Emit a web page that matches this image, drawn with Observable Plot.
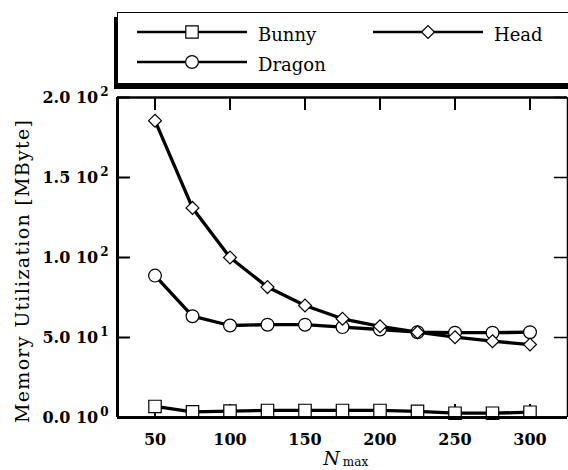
<!DOCTYPE html>
<html><head><meta charset="utf-8">
<script src="https://cdn.jsdelivr.net/npm/d3@7"></script>
<script src="https://cdn.jsdelivr.net/npm/@observablehq/plot@0.6"></script>
<style>
html,body{margin:0;padding:0;background:#fff;}
#wrap{position:relative;width:568px;height:470px;overflow:hidden;background:#fff;}
#chart{position:absolute;left:0;top:0;}
#legend{position:absolute;left:117px;top:12px;width:470px;height:70px;border:1px solid #000;box-shadow:-3px 5px 0 #000;background:#fff;}
#legend svg{position:absolute;left:-1px;top:-1px;}
</style></head><body><div id="wrap"><div id="chart"></div><div id="legend"></div></div>
<script>
const nmax = [50, 75, 100, 125, 150, 175, 200, 225, 250, 275, 300];
const bunny = [6.9, 3.5, 4.0, 4.4, 4.4, 4.4, 4.4, 3.8, 2.7, 2.7, 3.3];
const head = [185.5, 131, 100, 81.5, 70, 61.7, 57, 53.3, 50.2, 47.7, 45.6];
const dragon = [88.7, 63.3, 57.5, 58, 58, 56.5, 55, 53.3, 53, 53, 53.3];
const seriesNames = ["Bunny", "Dragon", "Head"];
const seriesSymbols = ["square", "circle", "diamond2"];
const seriesR = [7, 6.4, 5.8];
const xTicks = [50, 100, 150, 200, 250, 300];
const yTicks = [0, 50, 100, 150, 200];
const yTickLabels = ["0.0 10^0", "5.0 10^1", "1.0 10^2", "1.5 10^2", "2.0 10^2"];
const yLabel = "Memory Utilization [MByte]";
const xLabelMain = "N", xLabelSub = "max";

const seriesValues = {Bunny: bunny, Dragon: dragon, Head: head};
const rows = [];
seriesNames.forEach(s => nmax.forEach((n, j) => rows.push({series: s, n, v: seriesValues[s][j]})));

const serif = "'DejaVu Serif', 'Liberation Serif', serif";
const seriesMarks = [];
seriesNames.forEach((s, i) => {
  const data = rows.filter(d => d.series === s);
  seriesMarks.push(Plot.line(data, {x: "n", y: "v", stroke: "black", strokeWidth: 3.3}));
  seriesMarks.push(Plot.dot(data, {x: "n", y: "v", symbol: seriesSymbols[i], r: seriesR[i], fill: "white", stroke: "black", strokeWidth: 1.2}));
});

const chart = Plot.plot({
  width: 568, height: 470,
  marginLeft: 117, marginRight: 1, marginTop: 97, marginBottom: 53,
  style: {fontFamily: serif, background: "white", color: "black", overflow: "visible"},
  x: {domain: [25, 325]},
  y: {domain: [0, 200]},
  marks: [
    Plot.tickX(xTicks, {x: d => d, insetTop: 307, stroke: "black", strokeWidth: 2}),
    Plot.tickX(xTicks, {x: d => d, insetBottom: 307, stroke: "black", strokeWidth: 2}),
    Plot.tickY(yTicks, {y: d => d, insetRight: 437, stroke: "black", strokeWidth: 2}),
    Plot.tickY(yTicks, {y: d => d, insetLeft: 437, stroke: "black", strokeWidth: 1.5}),
    Plot.axisX({ticks: xTicks, tickSize: 0, tickPadding: 16, fontSize: 16, fontWeight: "bold", label: null}),
    Plot.axisY({ticks: yTicks, tickFormat: d => yTickLabels[yTicks.indexOf(d)], tickSize: 0, tickPadding: 9, fontSize: 16, fontWeight: "bold", label: null}),
    ...seriesMarks,
    Plot.ruleX([25], {stroke: "black", strokeWidth: 3}),
    Plot.ruleX([325], {stroke: "black", strokeWidth: 1.5}),
    Plot.ruleY([0], {stroke: "black", strokeWidth: 3}),
    Plot.ruleY([200], {stroke: "black", strokeWidth: 2.5}),
    Plot.text([yLabel], {text: d => d, frameAnchor: "left", textAnchor: "middle", lineAnchor: "middle", rotate: -90, dx: -95, dy: 14, fontSize: 19}),
    Plot.text([xLabelMain], {text: d => d, frameAnchor: "bottom", textAnchor: "middle", lineAnchor: "middle", dx: -11, dy: 41, fontSize: 19, fontStyle: "italic"}),
    Plot.text([xLabelSub], {text: d => d, frameAnchor: "bottom", textAnchor: "middle", lineAnchor: "middle", dx: 13, dy: 45, fontSize: 12})
  ]
});
document.getElementById("chart").appendChild(chart);
const sel = d3.select(chart);
sel.selectAll("text").filter(function() { return this.textContent === yLabel; })
  .attr("textLength", 303).attr("lengthAdjust", "spacing");
// superscripts on y tick labels
sel.selectAll("text").filter(function() { return /\^/.test(this.textContent); }).each(function() {
  const [base, exp] = this.textContent.split("^");
  const t = d3.select(this);
  t.text(null);
  t.append("tspan").text(base);
  t.append("tspan").attr("dy", "-0.55em").attr("dx", "2").attr("font-size", 12).text(exp);
});

// legend
const leg = d3.select("#legend").append("svg").attr("width", 470).attr("height", 72)
  .style("font-family", serif);
const legItems = [
  {name: "Bunny", sym: "square", r: 7, x0: 20, y: 20},
  {name: "Head", sym: "diamond2", r: 5.8, x0: 256, y: 20},
  {name: "Dragon", sym: "circle", r: 6.4, x0: 20, y: 50}
];
const symMap = {square: d3.symbolSquare, diamond2: d3.symbolDiamond2, circle: d3.symbolCircle};
legItems.forEach(it => {
  leg.append("line").attr("x1", it.x0).attr("x2", it.x0 + 110).attr("y1", it.y).attr("y2", it.y)
    .attr("stroke", "black").attr("stroke-width", 2.5);
  leg.append("path").attr("d", d3.symbol(symMap[it.sym], Math.PI * it.r * it.r)())
    .attr("transform", `translate(${it.x0 + 55},${it.y})`)
    .attr("fill", "white").attr("stroke", "black").attr("stroke-width", 1.2);
  leg.append("text").attr("x", it.x0 + 121).attr("y", it.y + 2).attr("dominant-baseline", "central")
    .attr("font-size", 18).text(it.name);
});
</script></body></html>
